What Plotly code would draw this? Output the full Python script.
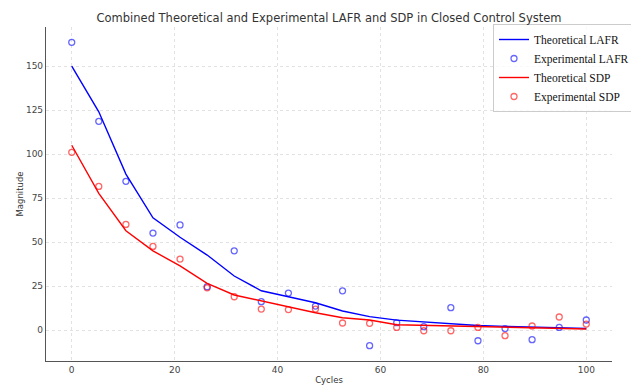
import plotly.graph_objects as go

cycles = [0.0, 5.26, 10.53, 15.79, 21.05, 26.32, 31.58, 36.84, 42.11, 47.37,
          52.63, 57.89, 63.16, 68.42, 73.68, 78.95, 84.21, 89.47, 94.74, 100.0]

theoretical_lafr = [150.0, 124.0, 88.6, 63.8, 52.7, 42.6, 30.7, 22.3, 18.9, 15.5,
                    10.8, 7.6, 5.6, 4.6, 3.8, 2.6, 2.1, 1.6, 1.2, 0.9]
experimental_lafr = [163.5, 118.6, 84.5, 55.1, 59.7, 24.6, 45.0, 16.1, 21.0, 13.6,
                     22.3, -8.9, 4.2, 1.9, 12.7, -6.1, 0.8, -5.5, 1.5, 5.7]
theoretical_sdp = [105.0, 77.7, 56.4, 45.0, 36.4, 26.5, 19.9, 16.6, 13.2, 9.8,
                   7.0, 5.7, 3.0, 2.6, 2.2, 1.9, 1.5, 1.1, 0.8, 0.6]
experimental_sdp = [101.0, 81.6, 60.0, 47.5, 40.3, 24.0, 18.9, 11.9, 11.6, 11.9,
                    4.0, 3.8, 1.5, -0.4, -0.4, 1.5, -3.2, 2.3, 7.4, 3.4]

x_ticks = [0, 20, 40, 60, 80, 100]
y_ticks = [0, 25, 50, 75, 100, 125, 150]

fig = go.Figure()
fig.add_trace(go.Scatter(x=cycles, y=theoretical_lafr, mode="lines", name="Theoretical LAFR",
                         line=dict(color="#0000ff", width=1.4)))
fig.add_trace(go.Scatter(x=cycles, y=experimental_lafr, mode="markers", name="Experimental LAFR",
                         marker=dict(symbol="circle-open", size=6, color="rgba(0,0,255,0.6)",
                                     line=dict(width=1.3))))
fig.add_trace(go.Scatter(x=cycles, y=theoretical_sdp, mode="lines", name="Theoretical SDP",
                         line=dict(color="#ff0000", width=1.4)))
fig.add_trace(go.Scatter(x=cycles, y=experimental_sdp, mode="markers", name="Experimental SDP",
                         marker=dict(symbol="circle-open", size=6, color="rgba(255,0,0,0.6)",
                                     line=dict(width=1.3))))

axis_common = dict(
    showgrid=True, gridcolor="#e2e2e2", griddash="dot", gridwidth=1,
    zeroline=False, showline=True, linecolor="#555555", linewidth=1.2,
    ticks="", tickfont=dict(family="DejaVu Sans", size=9, color="#444444"),
    mirror=False,
)

fig.update_layout(
    width=631, height=385,
    margin=dict(l=46, r=19, t=27, b=24, autoexpand=False),
    paper_bgcolor="white", plot_bgcolor="white",
    title=dict(text="Combined Theoretical and Experimental LAFR and SDP in Closed Control System",
               x=(46 + 612) / 2 / 631, xanchor="center", y=1 - 18 / 385, yanchor="middle",
               font=dict(family="DejaVu Sans", size=11.5, color="#333333")),
    xaxis=dict(range=[-5, 105], tickvals=x_ticks,
               title=dict(text="Cycles", font=dict(family="DejaVu Sans", size=8.5, color="#333333"),
                          standoff=4),
               **axis_common),
    yaxis=dict(range=[-17.6, 172.2], tickvals=y_ticks,
               title=dict(text="Magnitude", font=dict(family="DejaVu Sans", size=8.5, color="#333333"),
                          standoff=0),
               **axis_common),
    legend=dict(xref="container", yref="container",
                x=493 / 631, xanchor="left", y=1 - 24 / 385, yanchor="top",
                font=dict(family="Liberation Serif", size=11.5, color="#111111"),
                bgcolor="rgba(255,255,255,0.8)", bordercolor="#cccccc", borderwidth=1,
                tracegroupgap=0, itemwidth=30),
    showlegend=True,
)

fig.write_html("out.html")
